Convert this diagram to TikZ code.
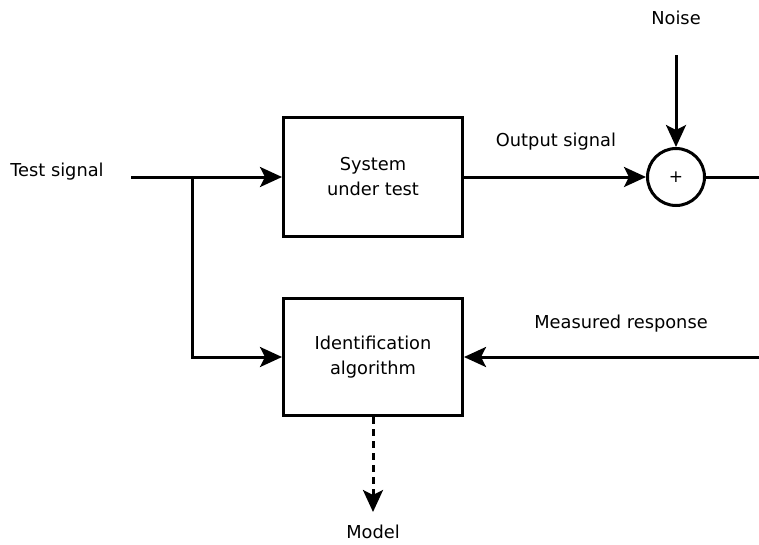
\documentclass[tikz,border=0pt]{standalone}
\usepackage{fontspec}
\setmainfont{DejaVu Sans}
\usetikzlibrary{arrows.meta}
\begin{document}
\begin{tikzpicture}[x=1pt, y=-1pt,
  every node/.style={font=\fontsize{17.8}{25}\selectfont, inner sep=0pt},
  block/.style={draw, line width=3pt, minimum width=179pt, minimum height=119pt, align=center},
  sumnode/.style={draw, circle, line width=3pt, minimum size=57pt},
  wire/.style={line width=3pt},
  arr/.style={wire, -{Stealth[length=22pt, width=20pt, inset=5pt]}},
  lbl/.style={anchor=base}]
  \useasboundingbox (0,0) rectangle (759,544);

  % blocks
  \node[block] (sys) at (373,177) {System\\under test};
  \node[block, minimum height=117pt] (ident) at (373,357) {Identification\\algorithm};
  \node[sumnode] (sum) at (676,177) {\fontsize{17}{17}\selectfont +};

  % free ends
  \coordinate (in) at (131,177);
  \coordinate (split) at (192,177);
  \coordinate (noise) at (676,55);
  \coordinate (out) at (759,177);
  \coordinate (meas) at (759,357);
  \coordinate (model) at (373,512);

  % labels
  \node[lbl] (tlbl) at (57,176) {Test signal};
  \node[lbl] (olbl) at (556,146) {Output signal};
  \node[lbl] (nlbl) at (676,24) {Noise};
  \node[lbl] (mlbl) at (621,328) {Measured response};
  \node[lbl] (modlbl) at (373,538) {Model};

  % signal flow
  \draw[arr] (in) -- (sys.west);
  \draw[arr] (split) |- (ident.west);
  \draw[arr] (sys.east) -- (sum.west);
  \draw[arr] (noise) -- (sum.north);
  \draw[wire] (sum.east) -- (out);
  \draw[arr] (meas) -- (ident.east);
  \draw[arr, dash pattern=on 7pt off 5pt] (ident.south) -- (model);
\end{tikzpicture}
\end{document}
